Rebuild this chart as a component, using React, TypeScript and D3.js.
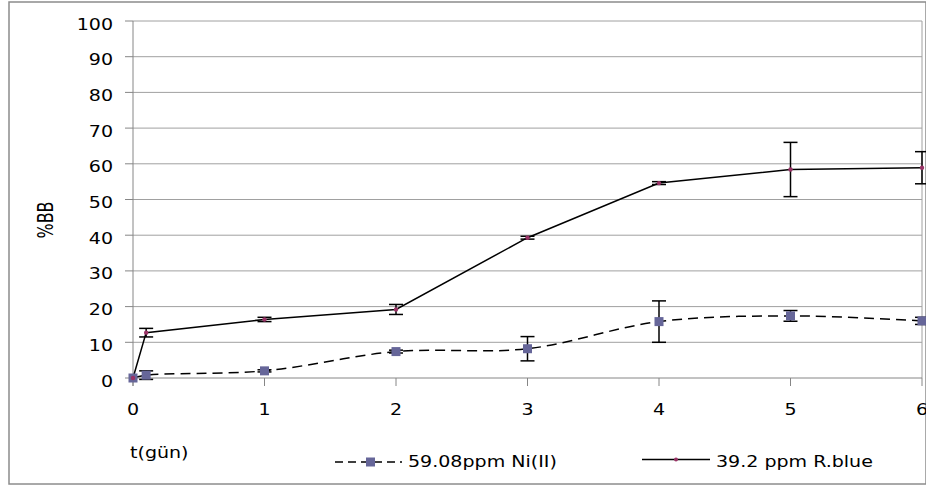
import React from "react";
import * as d3 from "d3";

const times = [0, 0.1, 1, 2, 3, 4, 5, 6];
const niValues = [0, 0.8, 2.0, 7.4, 8.2, 15.8, 17.4, 16.0];
const niErrors = [0, 1.2, 0.3, 0.4, 3.4, 5.8, 1.5, 1.0];
const rbValues = [0, 12.7, 16.4, 19.2, 39.3, 54.6, 58.4, 58.9];
const rbErrors = [0, 1.2, 0.6, 1.4, 0.4, 0.4, 7.6, 4.5];
const yTicks = [0, 10, 20, 30, 40, 50, 60, 70, 80, 90, 100];
const xTicks = [0, 1, 2, 3, 4, 5, 6];
const seriesNames = ["59.08ppm Ni(II)", "39.2 ppm R.blue"];
const xTitle = "t(gün)";
const yTitle = "%BB";

const W = 926;
const H = 486;
const FONT = "'DejaVu Sans', sans-serif";
const SX = 1.27;

function Txt({ x, y, children, anchor = "start", size = 15, rotate = 0 }: any) {
  return (
    <text
      transform={`translate(${x},${y}) scale(${SX},1)${rotate ? ` rotate(${rotate})` : ""}`}
      textAnchor={anchor}
      fontFamily={FONT}
      fontSize={size}
      fill="#000"
    >
      {children}
    </text>
  );
}

export default function App() {
  const x = d3.scaleLinear().domain([0, 6]).range([133, 922]);
  const y = d3.scaleLinear().domain([0, 100]).range([378, 21]);
  const ni = times.map((t, i) => ({ t, v: niValues[i], e: niErrors[i] }));
  const rb = times.map((t, i) => ({ t, v: rbValues[i], e: rbErrors[i] }));
  const niLine = d3
    .line<any>()
    .x((d) => x(d.t))
    .y((d) => y(d.v))
    .curve(d3.curveCatmullRom.alpha(0.5))(ni) as string;
  const rbLine = d3
    .line<any>()
    .x((d) => x(d.t))
    .y((d) => y(d.v))(rb) as string;
  const cap = 7;
  const errBars = (data: any[], key: string) =>
    data
      .filter((d) => d.e > 0)
      .map((d, i) => (
        <g key={key + i} stroke="#000" strokeWidth={1.5}>
          <line x1={x(d.t)} x2={x(d.t)} y1={y(d.v + d.e)} y2={y(d.v - d.e)} />
          <line x1={x(d.t) - cap} x2={x(d.t) + cap} y1={y(d.v + d.e)} y2={y(d.v + d.e)} />
          <line x1={x(d.t) - cap} x2={x(d.t) + cap} y1={y(d.v - d.e)} y2={y(d.v - d.e)} />
        </g>
      ));
  return (
    <svg
      width={W}
      height={H}
      style={{ position: "absolute", left: 0, top: 0, background: "#fff" }}
    >
      <rect x={0} y={0} width={W} height={H} fill="#fff" />
      <rect x={9} y={2} width={917} height={482} fill="none" stroke="#8c8c8c" strokeWidth={1.5} />
      {yTicks.map((t) => (
        <g key={"g" + t}>
          {t > 0 && (
            <line x1={x(0)} x2={x(6)} y1={y(t)} y2={y(t)} stroke="#a0a0a0" strokeWidth={1} />
          )}
          <line x1={x(0) - 8} x2={x(0)} y1={y(t)} y2={y(t)} stroke="#868686" strokeWidth={1} />
          <Txt x={113} y={y(t) + 8.5} anchor="end">
            {t}
          </Txt>
        </g>
      ))}
      <line x1={x(6)} x2={x(6)} y1={y(100)} y2={y(0)} stroke="#a0a0a0" strokeWidth={1} />
      <line x1={x(0)} x2={x(0)} y1={y(100)} y2={y(0) + 8} stroke="#868686" strokeWidth={1} />
      <line x1={x(0)} x2={x(6)} y1={y(0)} y2={y(0)} stroke="#868686" strokeWidth={1} />
      {xTicks.map((t) => (
        <g key={"x" + t}>
          <line x1={x(t)} x2={x(t)} y1={y(0)} y2={y(0) + 8} stroke="#868686" strokeWidth={1} />
          <Txt x={x(t)} y={415} anchor="middle">
            {t}
          </Txt>
        </g>
      ))}
      <Txt x={130} y={458}>{xTitle}</Txt>
      <Txt x={53} y={220} anchor="middle" size={16} rotate={-90}>
        {yTitle}
      </Txt>
      <path d={niLine} fill="none" stroke="#000" strokeWidth={1.5} strokeDasharray="10,6" />
      <path d={rbLine} fill="none" stroke="#000" strokeWidth={1.5} />
      {errBars(ni, "n")}
      {errBars(rb, "r")}
      {ni.map((d, i) => (
        <rect key={"ns" + i} x={x(d.t) - 4.5} y={y(d.v) - 4.5} width={9} height={9} fill="#666699" />
      ))}
      {rb.map((d, i) => (
        <circle key={"rc" + i} cx={x(d.t)} cy={y(d.v)} r={2.2} fill="#993366" />
      ))}
      <line x1={335} x2={402} y1={462} y2={462} stroke="#000" strokeWidth={1.5} strokeDasharray="8,5" />
      <rect x={366} y={457.5} width={9} height={9} fill="#666699" />
      <Txt x={408} y={467}>{seriesNames[0]}</Txt>
      <line x1={642} x2={710} y1={459.5} y2={459.5} stroke="#000" strokeWidth={1.5} />
      <circle cx={676} cy={459.5} r={2} fill="#993366" />
      <Txt x={716} y={467}>{seriesNames[1]}</Txt>
    </svg>
  );
}
